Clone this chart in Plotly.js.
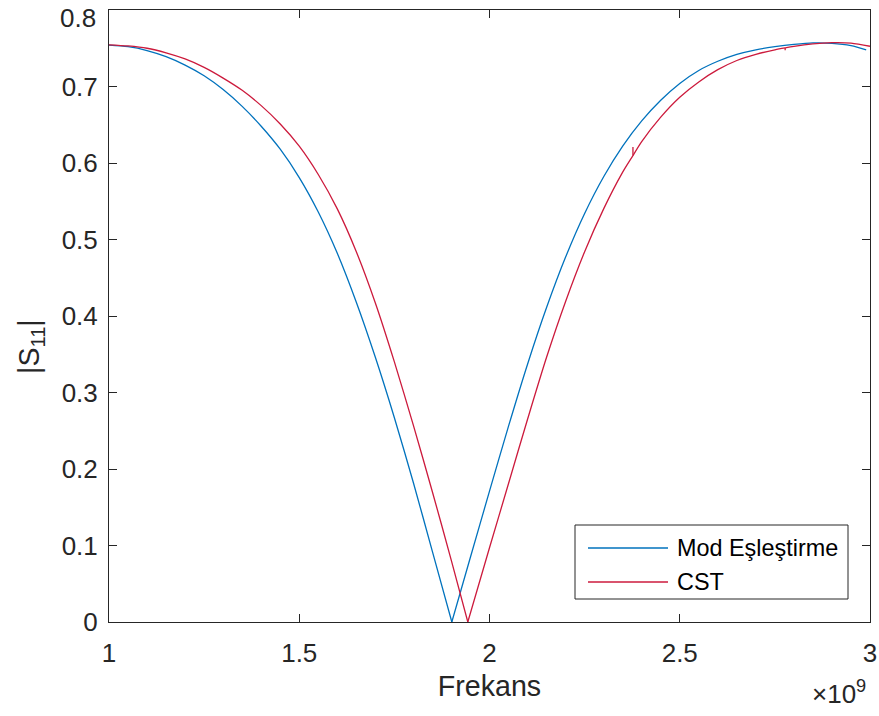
<!DOCTYPE html>
<html>
<head>
<meta charset="utf-8">
<script src="https://cdn.plot.ly/plotly-3.0.1.min.js"></script>
<style>html,body{margin:0;padding:0;background:#fff;}#chart{width:879px;height:716px;}</style>
</head>
<body>
<div id="chart"></div>
<script>
// Frequency in units of 1e9 Hz (axis multiplier shown as ×10^9)
const freqBlue = [1.00,1.05,1.10,1.15,1.20,1.25,1.30,1.35,1.40,1.45,1.50,1.55,1.60,1.65,1.70,1.75,1.80,1.85,1.901,
  1.95,2.00,2.05,2.10,2.15,2.20,2.25,2.30,2.35,2.40,2.45,2.50,2.55,2.60,2.65,2.70,2.75,2.80,2.85,2.90,2.95,2.99];
const s11Blue = [0.754,0.752,0.747,0.739,0.728,0.714,0.696,0.674,0.648,0.618,0.581,0.536,0.482,0.418,0.346,0.267,0.182,0.092,0.000,
  0.085,0.171,0.256,0.337,0.411,0.477,0.534,0.582,0.622,0.655,0.682,0.704,0.721,0.733,0.742,0.748,0.752,0.755,0.757,0.7565,0.7535,0.748];

const freqRed = [1.00,1.05,1.10,1.15,1.20,1.25,1.30,1.35,1.40,1.45,1.50,1.55,1.60,1.65,1.70,1.75,1.80,1.85,1.90,1.943,
  2.00,2.05,2.10,2.15,2.20,2.25,2.30,2.35,2.377,2.377,2.377,2.40,2.45,2.50,2.55,2.60,2.65,2.70,2.75,2.777,2.777,2.777,2.80,2.85,2.90,2.95,3.00];
const s11Red = [0.7545,0.753,0.750,0.744,0.736,0.725,0.711,0.695,0.675,0.651,0.622,0.585,0.540,0.484,0.417,0.340,0.257,0.170,0.080,0.000,
  0.097,0.181,0.265,0.346,0.419,0.484,0.540,0.588,0.6096,0.621,0.6096,0.628,0.660,0.686,0.706,0.722,0.734,0.742,0.748,0.7504,0.7475,0.7504,0.7525,0.7558,0.7574,0.7568,0.7526];

const seriesNames = ["Mod Eşleştirme", "CST"];
const seriesColors = ["#0072BD", "#CC1A3C"];
const xTicks = [1, 1.5, 2, 2.5, 3];
const xTickText = ["1", "1.5", "2", "2.5", "3"];
const yTicks = [0, 0.1, 0.2, 0.3, 0.4, 0.5, 0.6, 0.7, 0.8];
const yTickText = ["0", "0.1", "0.2", "0.3", "0.4", "0.5", "0.6", "0.7", "0.8"];

const font = "Liberation Sans, Arial, sans-serif";
const ink = "#262626";

// Split a curve into smooth pieces at the sharp null and at the small vertical glitches.
function pieces(xs, ys, color, name) {
  let k = 0;
  ys.forEach((v, i) => { if (v < ys[k]) k = i; });
  const segs = [];
  let start = 0;
  for (let j = 0; j < xs.length - 1; j++) {
    if (j === k && j > start) { segs.push([start, k, "spline"]); start = k; }
    if (xs[j + 1] === xs[j]) {
      if (j > start) segs.push([start, j, "spline"]);
      let e = j;
      while (e + 1 < xs.length && xs[e + 1] === xs[j]) e++;
      segs.push([j, e, "linear"]);
      start = e; j = e - 1;
    }
  }
  segs.push([start, xs.length - 1, "spline"]);
  return segs.map(s => ({
    type: "scatter", mode: "lines", name: name, showlegend: false, hoverinfo: "skip",
    x: xs.slice(s[0], s[1] + 1), y: ys.slice(s[0], s[1] + 1),
    line: {color: color, width: 1.3, shape: s[2], smoothing: 0.8}
  }));
}

const traces = [].concat(
  pieces(freqBlue, s11Blue, seriesColors[0], seriesNames[0]),
  pieces(freqRed, s11Red, seriesColors[1], seriesNames[1])
);

// Plot area in pixels
const L = 109, R = 870, T = 10, B = 622;
const px = x => (x - L) / (R - L);
const py = y => (B - y) / (B - T);

const legendRows = [548, 582];
const shapes = [
  {type: "rect", xref: "paper", yref: "paper", x0: px(575), x1: px(848), y0: py(599), y1: py(525),
   line: {color: ink, width: 1}, fillcolor: "#fff", layer: "above"}
];
const annotations = [];
seriesNames.forEach((n, i) => {
  shapes.push({type: "line", xref: "paper", yref: "paper", x0: px(588), x1: px(668),
    y0: py(legendRows[i]), y1: py(legendRows[i]), line: {color: seriesColors[i], width: 1.3}, layer: "above"});
  annotations.push({xref: "paper", yref: "paper", x: px(675), y: py(legendRows[i]), xanchor: "left", yanchor: "middle",
    text: n, showarrow: false, font: {family: font, size: 23.4, color: "#000"}});
});
annotations.push({xref: "paper", yref: "paper", x: px(868), y: py(692), xanchor: "right", yanchor: "middle",
  text: "×10<sup>9</sup>", showarrow: false, font: {family: font, size: 26, color: ink}});
annotations.push({xref: "paper", yref: "paper", x: px(31), y: py(347), xanchor: "center", yanchor: "middle",
  textangle: -90, text: "|S<sub>11</sub>|", showarrow: false, font: {family: font, size: 28.6, color: ink}});
// Top y tick label sits just inside the page, as in the reference
const topIdx = yTicks.length - 1;
annotations.push({xref: "paper", y: yTicks[topIdx], yref: "y", x: px(98), xanchor: "right", yanchor: "top",
  yshift: 9, text: yTickText[topIdx], showarrow: false, font: {family: font, size: 26, color: ink}});
const yTickTextShown = yTickText.map((t, i) => i === topIdx ? "" : t);

const layout = {
  width: 879, height: 716,
  margin: {l: L, r: 879 - R, t: T, b: 716 - B},
  paper_bgcolor: "#fff", plot_bgcolor: "#fff",
  font: {family: font, color: ink, size: 26},
  showlegend: false,
  xaxis: {range: [1, 3], tickvals: xTicks, ticktext: xTickText,
    showgrid: false, zeroline: false, showline: true, linecolor: ink, linewidth: 1,
    mirror: "ticks", ticks: "inside", ticklen: 8, tickcolor: ink, tickwidth: 1,
    ticklabelstandoff: 8, ticklabeloverflow: "allow",
    tickfont: {family: font, size: 26, color: ink},
    title: {text: "Frekans", font: {family: font, size: 28.6, color: ink}, standoff: 8}},
  yaxis: {range: [0, 0.8], tickvals: yTicks, ticktext: yTickTextShown,
    showgrid: false, zeroline: false, showline: true, linecolor: ink, linewidth: 1,
    mirror: "ticks", ticks: "inside", ticklen: 8, tickcolor: ink, tickwidth: 1,
    ticklabelstandoff: 5, ticklabeloverflow: "allow",
    tickfont: {family: font, size: 26, color: ink}},
  shapes: shapes,
  annotations: annotations
};

Plotly.newPlot("chart", traces, layout, {displayModeBar: false, staticPlot: true});
</script>
</body>
</html>
